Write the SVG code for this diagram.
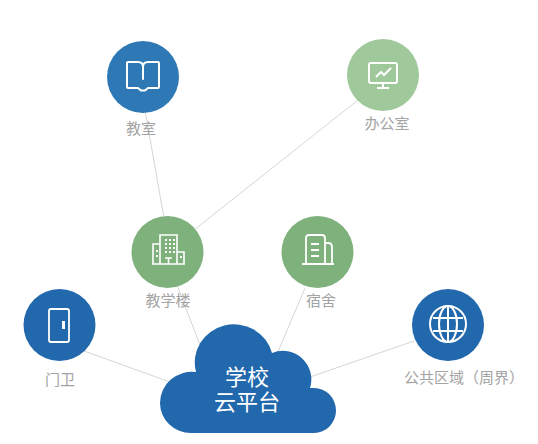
<svg xmlns="http://www.w3.org/2000/svg" width="538" height="444" viewBox="0 0 538 444">
<style>
.lnk{stroke:#d6d6d6;stroke-width:1;fill:none}
.lbl{font-family:"Noto Sans CJK SC","Noto Sans",sans-serif;font-size:15px;fill:#a3a3a3;text-anchor:middle}
.ic{fill:none;stroke:#fff;stroke-width:2;stroke-linejoin:round;stroke-linecap:round}
.ic1{fill:none;stroke:#fff;stroke-width:1.6}
.cl{font-family:"Noto Sans CJK SC","Noto Sans",sans-serif;font-size:22px;fill:#fff;text-anchor:middle}
</style>
<rect width="538" height="444" fill="#fff"/>
<g id="connectors">
<path class="lnk" d="M145 110L164 218"/>
<path class="lnk" d="M358 100L194 230"/>
<path class="lnk" d="M177 285L200 345"/>
<path class="lnk" d="M305 288L277 354"/>
<path class="lnk" d="M84 351L170 382"/>
<path class="lnk" d="M414 341L310 377"/>
</g>
<g id="n-classroom">
<circle cx="143" cy="77" r="36" fill="#2e79b5"/>
<path class="ic" d="M128 62H138Q143 62 143 67Q143 62 148 62H158Q159 62 159 63V87Q159 88 158 88H148L145 90.500H141L138 88H128Q127 88 127 87V63Q127 62 128 62Z"/>
<path class="ic" d="M143 67V79"/>
<text class="lbl" x="141" y="134">教室</text>
</g>
<g id="n-office">
<circle cx="383" cy="75" r="36" fill="#a0c99b"/>
<path class="ic1" style="stroke-width:2" d="M371 63H395Q397 63 397 65V81Q397 83 395 83H371Q369 83 369 81V65Q369 63 371 63ZM383 83V88M377 88H389"/>
<path class="ic1" style="stroke-width:2" d="M376 77L381 72L384 75L391 68"/>
<text class="lbl" x="387" y="129">办公室</text>
</g>
<g id="n-teaching">
<circle cx="167.500" cy="252" r="36" fill="#7fb17d"/>
<path class="ic1" d="M152 264H185M160 264V235H177V264M160 244H153V264M177 252H184V264M168.500 264V258M165 258H172"/>
<path d="M165 239h2v2h-2zM169 239h2v2h-2zM173 239h2v2h-2zM165 243h2v2h-2zM169 243h2v2h-2zM173 243h2v2h-2zM165 247h2v2h-2zM169 247h2v2h-2zM173 247h2v2h-2zM165 251h2v2h-2zM169 251h2v2h-2zM173 251h2v2h-2zM156 250h2v2h-2zM156 255h2v2h-2zM180 256h2v2h-2z" fill="#fff"/>
<text class="lbl" x="168" y="306">教学楼</text>
</g>
<g id="n-dorm">
<circle cx="317.500" cy="252" r="36" fill="#7fb17d"/>
<path class="ic1" style="stroke-width:1.800" d="M302 264H334M306 264V238Q306 235 309 235H322Q325 235 325 238V264M325 243H328Q332 243 332 247V264"/>
<path class="ic1" style="stroke-width:1.800" d="M311 244H319M311 250H319M311 256H319"/>
<text class="lbl" x="321" y="306">宿舍</text>
</g>
<g id="n-gate">
<circle cx="59.500" cy="325" r="36" fill="#2268ad"/>
<rect class="ic1" style="stroke-width:1.800" x="49" y="309" width="20" height="33" rx="2"/>
<rect x="62" y="321" width="3" height="8" fill="#fff"/>
<text class="lbl" x="60" y="385">门卫</text>
</g>
<g id="n-public">
<circle cx="448" cy="325" r="36" fill="#2268ad"/>
<g class="ic1" style="stroke-width:2">
<circle cx="448" cy="324" r="18"/>
<ellipse cx="448" cy="324" rx="9" ry="18"/>
<path d="M448 306V342M433 318H463M433 331H463"/>
</g>
<text class="lbl" x="464" y="383">公共区域（周界）</text>
</g>
<g id="n-cloud">
<path fill="#2268ad" d="M191 433A31 30 0 0 1 160 403A32 31 0 0 1 196 372A39 38 0 0 1 272 353A28.500 28.500 0 0 1 310 388H314A22 22.500 0 0 1 314 433Z"/>
<text class="cl"><tspan x="247" y="385">学校</tspan><tspan x="247" y="410">云平台</tspan></text>
</g>
</svg>
